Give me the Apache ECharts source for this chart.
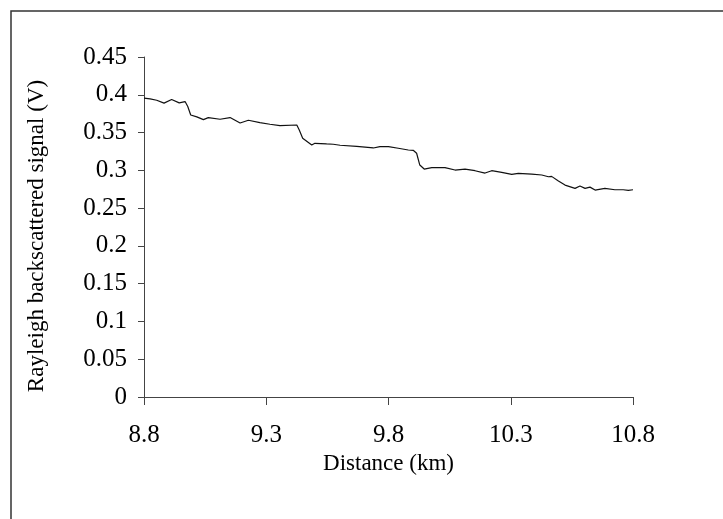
<!DOCTYPE html>
<html>
<head>
<meta charset="utf-8">
<script src="https://cdn.jsdelivr.net/npm/echarts@6/dist/echarts.min.js"></script>
<style>
  html, body { margin: 0; padding: 0; background: #fff; }
  #chart { width: 723px; height: 519px; }
</style>
</head>
<body>
<div id="chart"></div>
<script>
// distance (km) and signal (V)
var distance = [8.800, 8.825, 8.852, 8.882, 8.913, 8.944, 8.968, 8.979, 8.991, 9.016,
  9.043, 9.063, 9.111, 9.152, 9.193, 9.227, 9.274, 9.315, 9.356, 9.425,
  9.435, 9.449, 9.486, 9.499, 9.547, 9.574, 9.602, 9.670, 9.738, 9.765,
  9.800, 9.840, 9.881, 9.901, 9.915, 9.928, 9.946, 9.977, 10.031, 10.072,
  10.113, 10.154, 10.195, 10.222, 10.263, 10.304, 10.331, 10.386, 10.427, 10.454,
  10.467, 10.495, 10.522, 10.563, 10.583, 10.604, 10.624, 10.645, 10.685, 10.726,
  10.760, 10.781, 10.800];
var signal = [0.3955, 0.3946, 0.3928, 0.3889, 0.3937, 0.3893, 0.3910, 0.3844, 0.3733, 0.3707,
  0.3671, 0.3698, 0.3676, 0.3698, 0.3627, 0.3663, 0.3631, 0.3610, 0.3592, 0.3600,
  0.3534, 0.3424, 0.3336, 0.3358, 0.3349, 0.3345, 0.3332, 0.3318, 0.3296, 0.3313,
  0.3313, 0.3292, 0.3269, 0.3265, 0.3226, 0.3070, 0.3017, 0.3035, 0.3035, 0.3004,
  0.3017, 0.2995, 0.2964, 0.2995, 0.2973, 0.2947, 0.2960, 0.2951, 0.2938, 0.2915,
  0.2920, 0.2858, 0.2805, 0.2761, 0.2792, 0.2761, 0.2778, 0.2739, 0.2761, 0.2743,
  0.2743, 0.2735, 0.2743];
var xTicks = [8.8, 9.3, 9.8, 10.3, 10.8];
var yTicks = [0, 0.05, 0.1, 0.15, 0.2, 0.25, 0.3, 0.35, 0.4, 0.45];

var serif = "'Liberation Serif', 'Times New Roman', serif";
var pts = [];
for (var i = 0; i < distance.length; i++) pts.push([distance[i], signal[i]]);

var chart = echarts.init(document.getElementById("chart"));
var option = {
  backgroundColor: "#fff",
  animation: false,
  graphic: [{
    type: "rect",
    shape: { x: 11, y: 11, width: 730, height: 530 },
    style: { fill: null, stroke: "#333", lineWidth: 1.5 }
  }],
  grid: { left: 144, right: 90, top: 57, bottom: 122 },
  xAxis: {
    type: "value",
    min: xTicks[0],
    max: xTicks[xTicks.length - 1],
    interval: 0.5,
    name: "Distance (km)",
    nameLocation: "middle",
    nameGap: 46,
    nameTextStyle: { fontFamily: serif, fontSize: 23, color: "#000" },
    axisLine: { lineStyle: { color: "#444", width: 1 } },
    axisTick: { length: 8, lineStyle: { color: "#444" } },
    axisLabel: {
      margin: 26, fontFamily: serif, fontSize: 25, color: "#000",
      formatter: function (v) { return v.toFixed(1); }
    },
    splitLine: { show: false }
  },
  yAxis: {
    type: "value",
    min: yTicks[0],
    max: yTicks[yTicks.length - 1],
    interval: 0.05,
    name: "Rayleigh backscattered signal (V)",
    nameLocation: "middle",
    nameGap: 96,
    nameTextStyle: { fontFamily: serif, fontSize: 23, color: "#000", padding: [0, 18, 0, 0] },
    axisLine: { show: true, lineStyle: { color: "#444", width: 1 } },
    axisTick: { show: true, length: 6, lineStyle: { color: "#444" } },
    axisLabel: {
      margin: 17, fontFamily: serif, fontSize: 25, color: "#000",
      formatter: function (v) { return String(+v.toFixed(2)); }
    },
    splitLine: { show: false }
  },
  series: [{
    type: "line",
    data: pts,
    showSymbol: false,
    lineStyle: { color: "#111", width: 1.2 }
  }]
};
chart.setOption(option);
</script>
</body>
</html>
